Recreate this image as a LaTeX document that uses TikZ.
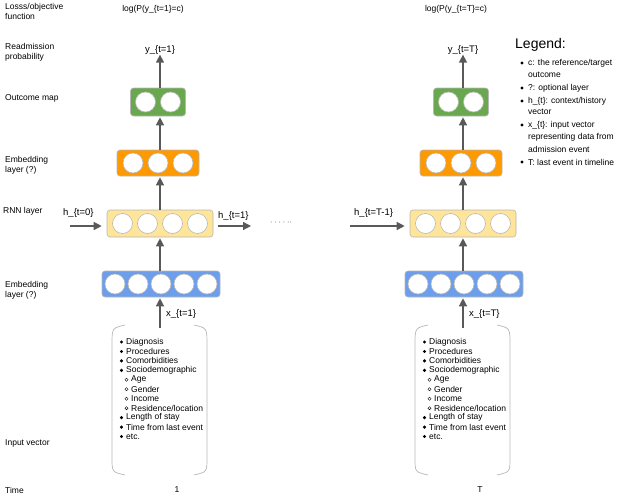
\documentclass[tikz,border=0pt]{standalone}
\usepackage{fontspec}
\setmainfont{Liberation Sans}
\usetikzlibrary{arrows.meta}
\definecolor{cgreen}{HTML}{6AA84F}
\definecolor{corange}{HTML}{FF9900}
\definecolor{cyellow}{HTML}{FFE599}
\definecolor{cblue}{HTML}{6D9EEB}
\definecolor{cedge}{HTML}{B7B7B7}
\definecolor{carrow}{HTML}{595959}
\begin{document}
\begin{tikzpicture}[x=1pt,y=-1pt,
  lbl/.style={font=\fontsize{8.5}{10.5}\selectfont,align=left,anchor=west,inner sep=0},
  layer/.style={draw=cedge,rounded corners=3pt,inner sep=0,line width=0.6pt},
  unit/.style={draw=cedge,fill=white,circle,minimum size=20pt,inner sep=0,line width=0.6pt},
  arr/.style={draw=carrow,line width=1.3pt,-{Triangle[length=8pt,width=8pt]}},
  brk/.style={draw=cedge,line width=0.7pt},
  item/.style={font=\fontsize{8.5}{10}\selectfont,anchor=west,inner sep=0}]
\useasboundingbox (0,0) rectangle (640,498);
% left labels
\node[lbl,anchor=north west] (l1) at (5,3) {Losss/objective\\function};
\node[lbl,anchor=north west] (l2) at (5,43) {Readmission\\probability};
\node[lbl] (l3) at (5,98) {Outcome map};
\node[lbl,anchor=north west] (l4) at (5,156) {Embedding\\layer (?)};
\node[lbl] (l5) at (3,211) {RNN layer};
\node[lbl,anchor=north west] (l6) at (5,281) {Embedding\\layer (?)};
\node[lbl] (l7) at (5,443) {Input vector};
\node[lbl] (l8) at (5,490) {Time};
% columns
\foreach \c/\cx/\tt/\xs/\tl in {a/160/1/{x\_\{t=1\}}/1, b/463/T/{x\_\{t=T\}}/T}{
  \node[lbl,anchor=center] (loss\c) at (\cx-7,9) {log(P(y\_\{t=\tt\}=c)};
  \node[lbl,anchor=center,font=\fontsize{9.5}{11}\selectfont] (y\c) at (\cx,50) {y\_\{t=\tt\}};
  \node[layer,fill=cgreen,minimum width=55pt,minimum height=28pt] (g\c) at (\cx-2,102) {};
  \foreach \i in {0,1} \node[unit] at ([xshift=-12.5+25*\i]g\c.center) {};
  \node[layer,fill=corange,minimum width=82pt,minimum height=26pt] (o\c) at (\cx-2,163) {};
  \foreach \i in {0,1,2} \node[unit] at ([xshift=-25+25*\i]o\c.center) {};
  \node[layer,fill=cyellow,minimum width=106pt,minimum height=27pt] (r\c) at (\cx,223.5) {};
  \foreach \i in {0,1,2,3} \node[unit] at ([xshift=-37.5+25*\i]r\c.center) {};
  \node[layer,fill=cblue,minimum width=118pt,minimum height=26pt] (e\c) at (\cx+1,284) {};
  \foreach \i in {0,...,4} \node[unit] at ([xshift=-46+23*\i]e\c.center) {};
  \coordinate (col\c) at (\cx,0);
  \draw[arr] (g\c.north -| col\c) -- (y\c.south -| col\c);
  \draw[arr] (o\c.north -| col\c) -- ([yshift=-1]g\c.south -| col\c);
  \draw[arr] (r\c.north -| col\c) -- ([yshift=-1]o\c.south -| col\c);
  \draw[arr] (e\c.north -| col\c) -- ([yshift=-1]r\c.south -| col\c);
  % bracket
  \coordinate (bt\c) at (\cx,328);
  \draw[brk] (\cx-35,325) .. controls (\cx-48,328) .. (\cx-48,345) -- (\cx-48,458) .. controls (\cx-48,472) .. (\cx-35,475);
  \draw[brk] (\cx+34,325) .. controls (\cx+47,328) .. (\cx+47,345) -- (\cx+47,458) .. controls (\cx+47,472) .. (\cx+34,475);
  \draw[arr] (bt\c) -- ([yshift=-1]e\c.south -| col\c);
  \node[lbl,font=\fontsize{9.5}{11}\selectfont] (xl\c) at (\cx+6,314) {\xs};
  \node[lbl,anchor=center] (t\c) at (\cx+17,490) {\tl};
  \foreach \k/\txt/\sub in {0/Diagnosis/0,1/Procedures/0,2/Comorbidities/0,3/Sociodemographic/0,
      4/Age/1,5/Gender/1,6/Income/1,7/Residence\slash location/1,8/Length of stay/0,9/Time from last event/0,10/etc./0}{
    \ifnum\sub=0
      \fill[black] (\cx-38.5,342+9.45*\k) circle (1.7pt);
      \node[item] at (\cx-34,342+9.45*\k) {\txt};
    \else
      \draw[black,line width=0.4pt] (\cx-33.5,342+9.45*\k) circle (1.6pt);
      \node[item] at (\cx-29,342+9.45*\k) {\txt};
    \fi
  }
}
% recurrent arrows
\coordinate (h0s) at (70,226);
\draw[arr] (h0s) -- ([xshift=-5]h0s -| ra.west);
\node[lbl,font=\fontsize{9.5}{11}\selectfont] (h0) at (63,213) {h\_\{t=0\}};
\coordinate (h1e) at (251,226);
\draw[arr] ([xshift=5]h1e -| ra.east) -- (h1e);
\node[lbl,font=\fontsize{9.5}{11}\selectfont] (h1) at (218,216) {h\_\{t=1\}};
\node[lbl] (dots) at (270,223) {$\cdot\cdot\cdot\cdot\cdot\cdot$};
\coordinate (hTs) at (350,226);
\draw[arr] (hTs) -- ([xshift=-5]hTs -| rb.west);
\node[lbl,font=\fontsize{9.5}{11}\selectfont] (hT) at (354,213) {h\_\{t=T-1\}};
% legend
\node[lbl,anchor=west,font=\fontsize{14}{16}\selectfont] (leg) at (515,45) {Legend:};
\foreach \yy/\txt/\b in {63/c: the reference\slash target/1,75/outcome/0,88/?: optional layer/1,101/h\_\{t\}: context\slash history/1,112/vector/0,125/x\_\{t\}: input vector/1,137/representing data from/0,149/admission event/0,162/T: last event in timeline/1}{
  \ifnum\b=1 \fill (522,\yy) circle (1.7pt); \fi
  \node[item] at (528,\yy) {\txt};
}
\end{tikzpicture}
\end{document}
